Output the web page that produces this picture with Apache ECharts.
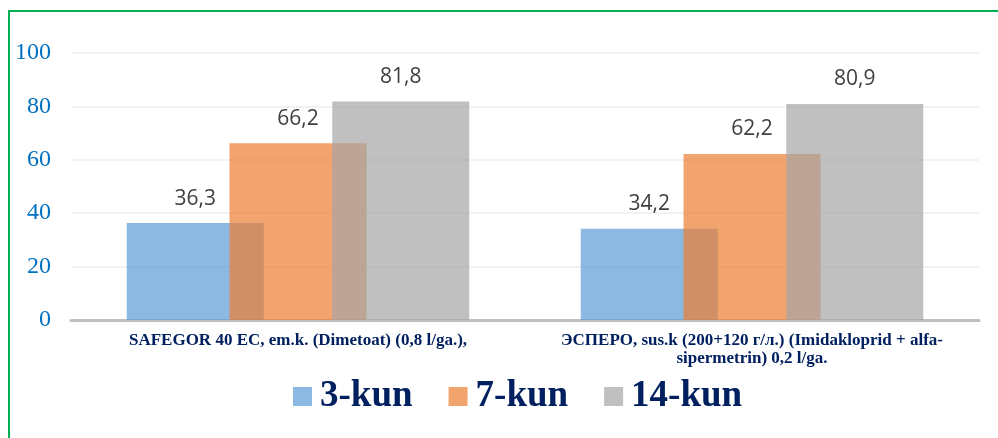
<!DOCTYPE html>
<html><head><meta charset="utf-8">
<script src="https://cdn.jsdelivr.net/npm/echarts@6/dist/echarts.min.js"></script>
<style>html,body{margin:0;padding:0;background:#fff}#c{width:998px;height:438px}</style>
</head><body><div id="c"></div>
<script>
const categories = ["SAFEGOR 40 EC, em.k. (Dimetoat) (0,8 l/ga.),", "ЭСПЕРО, sus.k (200+120 г/л.) (Imidakloprid + alfa-\nsipermetrin) 0,2 l/ga."];
const seriesNames = ["3-kun", "7-kun", "14-kun"];
const day3 = [36.3, 34.2];
const day7 = [66.2, 62.2];
const day14 = [81.8, 80.9];
const colors = ["rgba(91,155,213,0.7)", "rgba(237,125,49,0.7)", "rgba(165,165,165,0.7)"];

const chart = echarts.init(document.getElementById('c'), null, {renderer: 'canvas'});
const mk = (name, data, color) => ({
  name, type: 'bar', data, barWidth: 137, barGap: '-25%',
  itemStyle: {color},
  label: {show: true, position: 'top', distance: 14, color: '#404040',
    fontFamily: 'Open Sans', fontSize: 21,
    formatter: p => String(p.value).replace('.', ',')}
});
chart.setOption({
  animation: false,
  graphic: [{type: 'rect', shape: {x: 9, y: 11, width: 1000, height: 500},
    style: {fill: 'none', stroke: '#00B050', lineWidth: 2}, z: 100}],
  grid: {left: 71, right: 19, top: 53, bottom: 118},
  legend: {
    data: seriesNames, left: 288, top: 373, itemWidth: 19, itemHeight: 19, itemGap: 36,
    icon: 'rect',
    textStyle: {fontFamily: 'Liberation Serif', fontWeight: 'bold', fontSize: 37, color: '#002060', padding: [0,0,0,3]}
  },
  xAxis: {
    type: 'category', data: categories,
    axisLine: {lineStyle: {color: '#BFBFBF', width: 3}},
    axisTick: {show: false},
    axisLabel: {fontFamily: 'Liberation Serif', fontWeight: 'bold', fontSize: 17, color: '#002060', margin: 12, lineHeight: 18, interval: 0}
  },
  yAxis: {
    type: 'value', min: 0, max: 100, interval: 20,
    axisLine: {show: false}, axisTick: {show: false},
    splitLine: {lineStyle: {color: '#EEEEEE', width: 1.5}},
    axisLabel: {fontFamily: 'Liberation Serif', fontSize: 24, color: '#0070C0', margin: 20}
  },
  series: [mk(seriesNames[0], day3, colors[0]), mk(seriesNames[1], day7, colors[1]), mk(seriesNames[2], day14, colors[2])]
});
</script></body></html>
